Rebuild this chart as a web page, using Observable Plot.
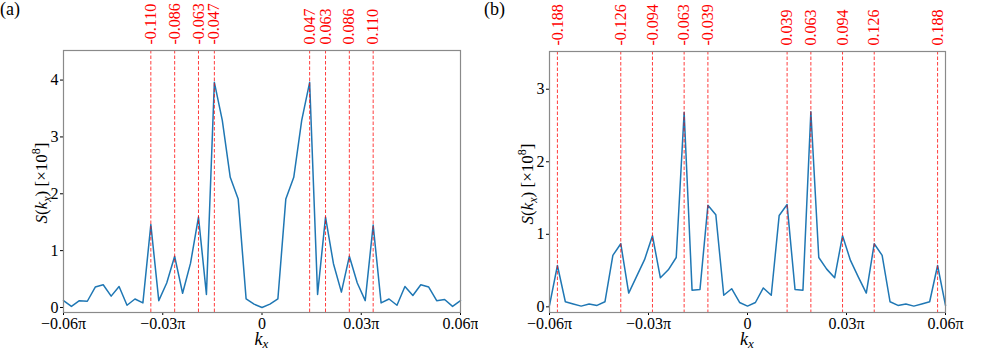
<!DOCTYPE html>
<html><head><meta charset="utf-8">
<script src="https://cdn.jsdelivr.net/npm/d3@7"></script>
<script src="https://cdn.jsdelivr.net/npm/@observablehq/plot@0.6"></script>
<style>
body{margin:0;background:#fff;}
#wrap{display:flex;width:996px;height:352px;overflow:hidden;}
#wrap svg, #wrap svg text{font-family:"Liberation Serif","Times New Roman",serif !important;}
</style></head><body><div id="wrap"></div>
<script>
// k_x grid (in units of pi)
const kx = [-0.0600,-0.0576,-0.0552,-0.0528,-0.0504,-0.0480,-0.0456,-0.0432,-0.0408,-0.0384,
  -0.0360,-0.0336,-0.0312,-0.0288,-0.0264,-0.0240,-0.0216,-0.0192,-0.0168,-0.0144,
  -0.0120,-0.0096,-0.0072,-0.0048,-0.0024,0,0.0024,0.0048,0.0072,0.0096,
  0.0120,0.0144,0.0168,0.0192,0.0216,0.0240,0.0264,0.0288,0.0312,0.0336,
  0.0360,0.0384,0.0408,0.0432,0.0456,0.0480,0.0504,0.0528,0.0552,0.0576,0.0600];

// Panel (a) S(kx) [x1e8]
const Sa = [0.12,0.02,0.12,0.11,0.36,0.40,0.20,0.37,0.04,0.15,
  0.08,1.46,0.12,0.43,0.90,0.25,0.78,1.59,0.23,3.96,
  3.29,2.29,1.91,0.15,0.06,0.00,0.06,0.15,1.91,2.29,
  3.29,3.96,0.23,1.59,0.77,0.27,0.90,0.43,0.12,1.45,
  0.08,0.15,0.04,0.37,0.21,0.40,0.36,0.12,0.14,0.02,0.12];

// Panel (b) S(kx) [x1e8]
const Sb = [0.02,0.57,0.07,0.04,0.01,0.04,0.02,0.07,0.71,0.87,
  0.19,0.42,0.65,0.98,0.40,0.51,0.68,2.68,0.23,0.24,
  1.40,1.27,0.16,0.25,0.06,0.01,0.06,0.26,0.16,1.26,
  1.41,0.24,0.23,2.69,0.68,0.52,0.40,0.98,0.64,0.41,
  0.19,0.87,0.71,0.07,0.02,0.04,0.01,0.04,0.07,0.57,0.02];

// Marked peak positions and their labels
const peaksA = [-0.0336,-0.0264,-0.0192,-0.0144,0.0144,0.0192,0.0264,0.0336];
const peakLabelsA = ["-0.110","-0.086","-0.063","-0.047","0.047","0.063","0.086","0.110"];
const peaksB = [-0.0576,-0.0384,-0.0288,-0.0192,-0.0120,0.0120,0.0192,0.0288,0.0384,0.0576];
const peakLabelsB = ["-0.188","-0.126","-0.094","-0.063","-0.039","0.039","0.063","0.094","0.126","0.188"];

const xTicks = [-0.06,-0.03,0,0.03,0.06];
const xTickLabels = ["\u22120.06\u03c0","\u22120.03\u03c0","0","0.03\u03c0","0.06\u03c0"];
const yTicksA = [0,1,2,3,4];
const yTicksB = [0,1,2,3];

const FONT = '"Liberation Serif", "Times New Roman", serif';

function panel(o) {
  const data = kx.map((k, i) => ({k, s: o.S[i]}));
  const pk = o.peaks.map((p, i) => ({p, label: o.labels[i]}));
  const chart = Plot.plot({
    width: o.width, height: 352,
    marginLeft: o.marginLeft, marginRight: o.marginRight, marginTop: o.marginTop, marginBottom: 40,
    style: {fontFamily: FONT, fontSize: "16px", background: "white", color: "#000", overflow: "visible"},
    x: {domain: [-0.06, 0.06], ticks: xTicks, tickFormat: (d) => xTickLabels[xTicks.indexOf(d)], tickSize: 3, tickPadding: 2, label: null},
    y: {domain: o.yDomain, ticks: o.yTicks, tickFormat: d3.format("d"), tickSize: 3, tickPadding: 2, label: null},
    marks: [
      Plot.line(data, {x: "k", y: "s", stroke: "#1f77b4", strokeWidth: 1.5}),
      Plot.ruleX(pk, {x: "p", stroke: "#ff0000", strokeWidth: 0.9, strokeDasharray: "3.5,2", strokeOpacity: 0.85}),
      Plot.frame({stroke: "#8a8a8a", strokeWidth: 1.2}),
      Plot.text(pk, {x: "p", text: "label", frameAnchor: "top", rotate: -90, textAnchor: "start", lineAnchor: "middle", dy: -6, fill: "#ff0000", fontSize: 16})
    ]
  });
  const svg = d3.select(chart);
  svg.append("text").attr("x", o.letterX).attr("y", 15).attr("text-anchor", "start")
    .attr("font-family", FONT).attr("font-size", 18).attr("fill", "#000").text(o.letter);
  const yl = svg.append("text")
    .attr("transform", `translate(${o.ylabelX},${o.ylabelY}) rotate(-90)`)
    .attr("text-anchor", "middle").attr("font-family", FONT).attr("font-size", 17).attr("fill", "#000");
  yl.append("tspan").attr("font-style", "italic").text("S");
  yl.append("tspan").text("(");
  yl.append("tspan").attr("font-style", "italic").text("k");
  yl.append("tspan").attr("font-style", "italic").attr("font-size", 12).attr("dy", 4).text("x");
  yl.append("tspan").attr("dy", -4).text(") [\u00d710");
  yl.append("tspan").attr("font-size", 12).attr("dy", -7).text("8");
  yl.append("tspan").attr("dy", 7).text("]");
  const xl = svg.append("text")
    .attr("x", o.xlabelX).attr("y", 345)
    .attr("text-anchor", "middle").attr("font-family", FONT).attr("font-size", 18).attr("fill", "#000");
  xl.append("tspan").attr("font-style", "italic").text("k");
  xl.append("tspan").attr("font-style", "italic").attr("font-size", 13).attr("dy", 3).text("x");
  return chart;
}

const wrap = document.getElementById("wrap");
wrap.appendChild(panel({
  width: 478, marginLeft: 63, marginRight: 18, marginTop: 50,
  yDomain: [-0.088, 4.52], yTicks: yTicksA, S: Sa,
  peaks: peaksA, labels: peakLabelsA,
  letter: "(a)", letterX: 0, ylabelX: 46.5, ylabelY: 183, xlabelX: 261.5
}));
wrap.appendChild(panel({
  width: 518, marginLeft: 71, marginRight: 51, marginTop: 51,
  yDomain: [-0.078, 3.52], yTicks: yTicksB, S: Sb,
  peaks: peaksB, labels: peakLabelsB,
  letter: "(b)", letterX: 6, ylabelX: 54.7, ylabelY: 184, xlabelX: 268.8
}));
</script></body></html>
